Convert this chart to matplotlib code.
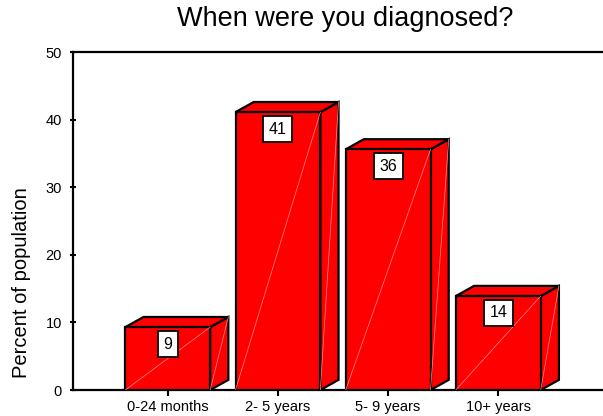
import matplotlib
matplotlib.use("Agg")
import matplotlib.pyplot as plt
from matplotlib.patches import Polygon

plt.rcParams["font.family"] = ["Liberation Sans", "DejaVu Sans"]

categories = ["0-24 months", "2- 5 years", "5- 9 years", "10+ years"]
percent = [9, 41, 36, 14]
bar_heights = [9.3, 41.1, 35.6, 13.9]

fig = plt.figure(figsize=(6.03, 4.16), dpi=100)
ax = fig.add_axes([0.121, 0.0625, 0.879, 0.8125])

width = 0.77
dx, dy = 0.165, 1.5
red = "#ff0000"

for i, (h, p) in enumerate(zip(bar_heights, percent)):
    x0, x1 = i - width / 2, i + width / 2
    front = Polygon([(x0, 0), (x1, 0), (x1, h), (x0, h)], closed=True,
                    facecolor=red, edgecolor="black", lw=1.6, zorder=3)
    top = Polygon([(x0, h), (x1, h), (x1 + dx, h + dy), (x0 + dx, h + dy)],
                  closed=True, facecolor=red, edgecolor="black", lw=1.6, zorder=3)
    side = Polygon([(x1, 0), (x1 + dx, dy), (x1 + dx, h + dy), (x1, h)],
                   closed=True, facecolor=red, edgecolor="black", lw=1.6, zorder=3)
    for patch in (side, top, front):
        ax.add_patch(patch)
    # faint highlight diagonals
    ax.plot([x0, x1], [0, h], color="#ff9090", lw=0.5, zorder=4)
    ax.plot([x1, x1 + dx], [0, h + dy], color="#ff9090", lw=0.5, zorder=4)
    ax.text(i, h - 2.5, str(p), ha="center", va="center", fontsize=11.5, zorder=5,
            bbox=dict(boxstyle="square,pad=0.35", facecolor="white",
                      edgecolor="black", lw=1.3))

ax.set_xlim(-0.86, 3.95)
ax.set_ylim(0, 50)
ax.set_xticks(range(len(categories)))
ax.set_xticklabels(categories, fontsize=10.5)
ax.set_yticks([0, 10, 20, 30, 40, 50])
ax.tick_params(axis="x", direction="out", length=4, width=1.5, pad=3)
ax.tick_params(axis="y", direction="inout", length=4, width=1.5, pad=6, labelsize=10.5)

for s in ("left", "top", "bottom"):
    ax.spines[s].set_linewidth(1.6)
ax.spines["right"].set_visible(False)

ax.set_ylabel("Percent of population", fontsize=14.5)
ax.yaxis.set_label_coords(-0.08, 0.317)
fig.suptitle("When were you diagnosed?", fontsize=19.5, x=0.572, y=0.985)

fig.savefig("out.png", dpi=100)
